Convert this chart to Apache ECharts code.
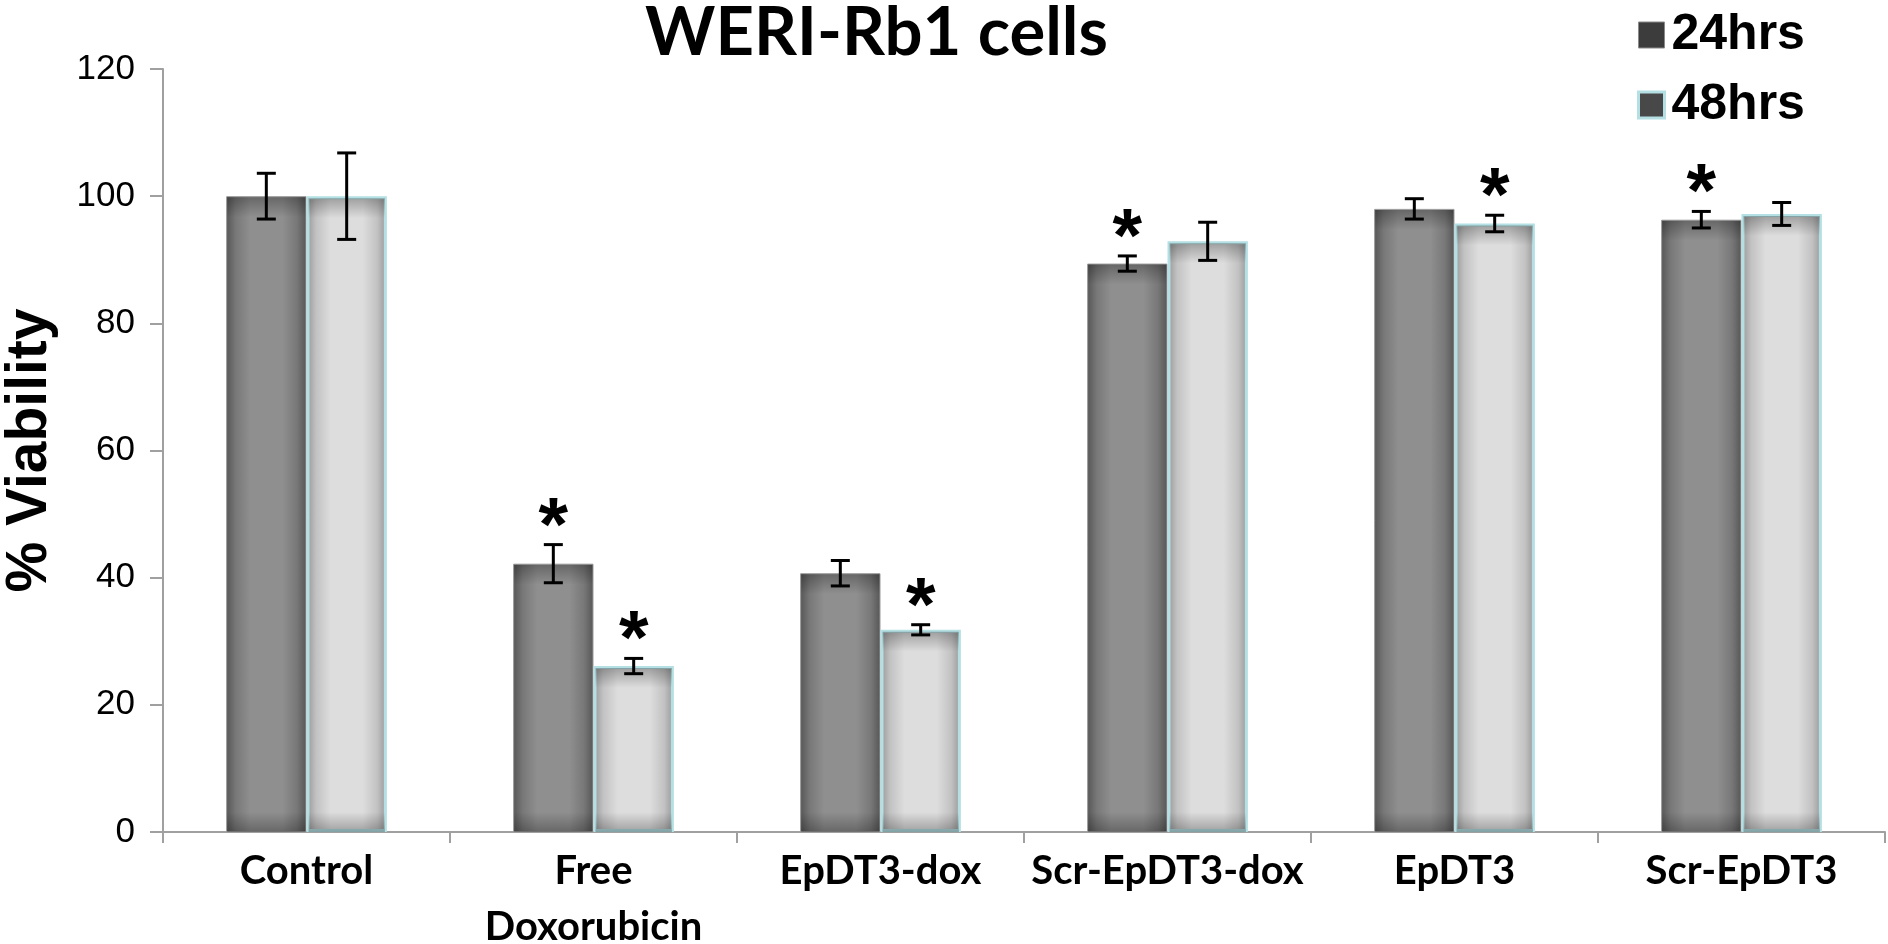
<!DOCTYPE html>
<html>
<head>
<meta charset="utf-8">
<script src="https://cdn.jsdelivr.net/npm/echarts@6/dist/echarts.min.js"></script>
<style>
html,body{margin:0;padding:0;background:#fff;}
#chart{width:1888px;height:944px;}
</style>
</head>
<body>
<div id="chart"></div>
<script>
// ---- data ----
const categories = ['Control', 'Free\nDoxorubicin', 'EpDT3-dox', 'Scr-EpDT3-dox', 'EpDT3', 'Scr-EpDT3'];
const seriesNames = ['24hrs', '48hrs'];
const values24 = [100, 42.2, 40.7, 89.4, 98.0, 96.3];
const errors24 = [3.6, 3.0, 2.0, 1.2, 1.6, 1.3];
const signif24 = [0, 1, 0, 1, 0, 1];
const values48 = [100, 26.1, 31.8, 92.9, 95.7, 97.2];
const errors48 = [6.8, 1.2, 0.8, 3.0, 1.3, 1.8];
const signif48 = [0, 1, 1, 0, 1, 0];
const yTicks = [0, 20, 40, 60, 80, 100, 120];

// ---- chart ----
const chart = echarts.init(document.getElementById('chart'), null, {renderer: 'canvas'});
const BAR_FRAC = 0.28;

function hGrad(stops) {
  return new echarts.graphic.LinearGradient(0, 0, 1, 0, stops);
}
const grad24 = hGrad([
  {offset: 0, color: '#565656'}, {offset: 0.12, color: '#787878'},
  {offset: 0.3, color: '#8f8f8f'}, {offset: 0.7, color: '#8f8f8f'},
  {offset: 0.88, color: '#787878'}, {offset: 1, color: '#565656'}
]);
const grad48 = hGrad([
  {offset: 0, color: '#969696'}, {offset: 0.12, color: '#c2c2c2'},
  {offset: 0.3, color: '#dddddd'}, {offset: 0.7, color: '#dddddd'},
  {offset: 0.88, color: '#c2c2c2'}, {offset: 1, color: '#969696'}
]);

function makeErr(values, errors, signif) {
  return values.map((v, i) => [i, v, errors[i], signif[i]]);
}

function errRender(sign) {
  return function (params, api) {
    const i = api.value(0), v = api.value(1), e = api.value(2), s = api.value(3);
    const band = api.size([1, 0])[0];
    const bw = band * BAR_FRAC;
    const cx = api.coord([i, v])[0] + sign * bw / 2;
    const yv = api.coord([i, v])[1];
    const y0 = api.coord([i, 0])[1];
    const yT = api.coord([i, v + e])[1];
    const yB = api.coord([i, v - e])[1];
    const h = y0 - yv;
    const f = Math.min(0.45, 20 / h);
    const inset = sign > 0 ? 2 : 1;
    const children = [
      {
        type: 'rect',
        shape: {x: cx - bw / 2 + inset, y: yv + inset, width: bw - 2 * inset, height: h - inset},
        style: {
          fill: new echarts.graphic.LinearGradient(0, 0, 0, 1, [
            {offset: 0, color: 'rgba(0,0,0,0.28)'},
            {offset: f, color: 'rgba(0,0,0,0)'},
            {offset: 1 - f, color: 'rgba(0,0,0,0)'},
            {offset: 1, color: 'rgba(0,0,0,0.28)'}
          ])
        },
        silent: true
      },
      {type: 'line', shape: {x1: cx, y1: yT, x2: cx, y2: yB}, style: {stroke: '#000', lineWidth: 3}},
      {type: 'line', shape: {x1: cx - 9.5, y1: yT, x2: cx + 9.5, y2: yT}, style: {stroke: '#000', lineWidth: 3}},
      {type: 'line', shape: {x1: cx - 9.5, y1: yB, x2: cx + 9.5, y2: yB}, style: {stroke: '#000', lineWidth: 3}}
    ];
    if (s) {
      children.push({
        type: 'text',
        style: {
          text: '*', x: cx, y: yT + 22, align: 'center', verticalAlign: 'bottom',
          font: 'bold 76px "Liberation Sans", Arial, sans-serif', fill: '#000'
        }
      });
    }
    return {type: 'group', children: children};
  };
}

const option = {
  animation: false,
  backgroundColor: '#ffffff',
  title: {
    text: 'WERI-Rb1 cells',
    left: 645, top: 0,
    padding: 0,
    textStyle: {fontFamily: 'Lato', fontWeight: 'bold', fontSize: 67, color: '#000'}
  },
  legend: {
    orient: 'vertical',
    left: 1637, top: 10,
    padding: 0,
    icon: 'rect',
    itemWidth: 26, itemHeight: 26,
    itemGap: 20,
    textStyle: {fontFamily: '"Liberation Sans", Arial', fontWeight: 'bold', fontSize: 50, color: '#000', lineHeight: 50, padding: [0, 0, 0, 2]},
    data: [
      {name: seriesNames[0], itemStyle: {color: '#3c3c3c', borderColor: '#8a8a8a', borderWidth: 1}},
      {name: seriesNames[1], itemStyle: {color: '#484848', borderColor: '#b4dfe3', borderWidth: 3}}
    ]
  },
  grid: {left: 163, right: 3, top: 69, bottom: 112, containLabel: false, outerBoundsMode: 'none'},
  xAxis: {
    type: 'category',
    data: categories,
    axisLine: {lineStyle: {color: '#a0a0a0', width: 2}},
    axisTick: {show: true, length: 11, lineStyle: {color: '#a0a0a0', width: 2}},
    axisLabel: {
      interval: 0, margin: 11,
      fontFamily: 'Lato', fontWeight: 'bold', fontSize: 40, color: '#000', lineHeight: 56
    }
  },
  yAxis: {
    type: 'value',
    min: yTicks[0], max: yTicks[yTicks.length - 1], interval: yTicks[1] - yTicks[0],
    name: '% Viability',
    nameLocation: 'middle',
    nameGap: 104,
    nameTextStyle: {fontFamily: '"Liberation Sans", Arial', fontWeight: 'bold', fontSize: 57, color: '#000'},
    axisLine: {show: true, lineStyle: {color: '#a0a0a0', width: 2}},
    axisTick: {show: true, length: 13, lineStyle: {color: '#a0a0a0', width: 2}},
    splitLine: {show: false},
    axisLabel: {margin: 28, fontFamily: '"Liberation Sans", Arial', fontSize: 35, color: '#000'}
  },
  series: [
    {
      name: seriesNames[0], type: 'bar', data: values24,
      barWidth: (BAR_FRAC * 100) + '%', barGap: '0%',
      itemStyle: {color: grad24, borderColor: '#9a9a9a', borderWidth: 1}
    },
    {
      name: seriesNames[1], type: 'bar', data: values48,
      barWidth: (BAR_FRAC * 100) + '%', barGap: '0%',
      itemStyle: {color: grad48, borderColor: '#b4dfe3', borderWidth: 3}
    },
    {
      name: 'err24', type: 'custom', data: makeErr(values24, errors24, signif24),
      renderItem: errRender(-1), z: 5, silent: true
    },
    {
      name: 'err48', type: 'custom', data: makeErr(values48, errors48, signif48),
      renderItem: errRender(1), z: 5, silent: true
    }
  ]
};
chart.setOption(option);
</script>
</body>
</html>
